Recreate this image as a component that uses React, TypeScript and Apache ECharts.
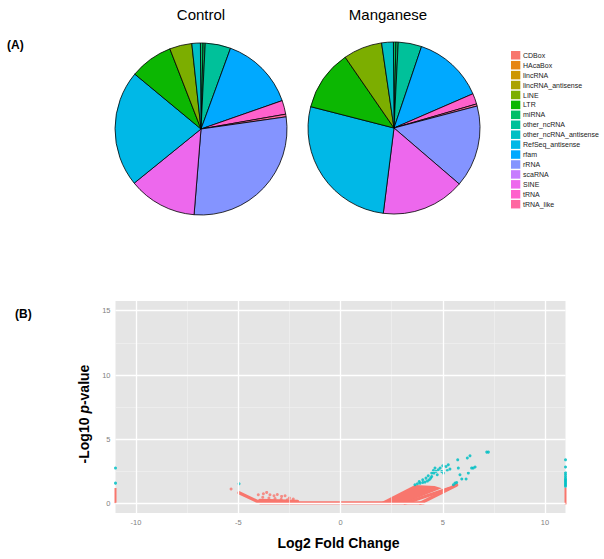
import React, { useEffect, useRef } from "react";
import * as echarts from "echarts";

const categories = ["CDBox", "HAcaBox", "lincRNA", "lincRNA_antisense", "LINE", "LTR", "miRNA", "other_ncRNA", "other_ncRNA_antisense", "RefSeq_antisense", "rfam", "rRNA", "scaRNA", "SINE", "tRNA", "tRNA_like"];
const palette = ["#F8766D", "#E68613", "#CD9600", "#ABA300", "#7CAE00", "#0CB702", "#00BE67", "#00C19A", "#00BFC4", "#00B8E7", "#00A9FF", "#8494FF", "#C77CFF", "#ED68ED", "#FF61CC", "#FF68A1"];

// pie slices, clockwise from 12 o'clock
const sliceNames = ["miRNA", "miRNA", "other_ncRNA", "rfam", "tRNA", "tRNA_like", "rRNA", "SINE", "RefSeq_antisense", "LTR", "LINE", "other_ncRNA_antisense"];
const controlValues = [0.5, 0.4, 4.8, 14.1, 2.6, 0.5, 28.6, 12.9, 21.9, 8.1, 4.2, 1.6];
const manganeseValues = [0.47, 0.43, 4.4, 13.3, 2.0, 0.4, 15.4, 15.7, 27.0, 11.4, 7.3, 2.2];

// volcano plot
const xMajor = [-10, -5, 0, 5, 10];
const xMinor = [-7.5, -2.5, 2.5, 7.5];
const yMajor = [0, 5, 10, 15];
const yMinor = [2.5, 7.5, 12.5];

const redBands = [
  [[-4.96, 0.85], [-3.9, 0.06], [4.05, 0.06]],
  [[-3.95, 0.25], [-2.1, 0.18]],
  [[3.15, 0.04], [5.3, 1.18]],
  [[3.9, 0.04], [5.68, 1.45]],
];
const edgeBands = [
  [[-11, 0.05], [-11, 1.22]],
  [[11, -0.05], [11, 1.25]],
];
const fanPolygons = [
  [[1.85, 0], [3.64, 1.45], [4.6, 1.38], [4.95, 1.2], [3.05, 0]],
];
const redPoints = [
  [-5.35, 1.14], [-4.02, 0.7], [-3.77, 0.78], [-3.61, 0.88], [-3.45, 0.7], [-3.25, 0.62], [-3.09, 0.72],
  [-2.88, 0.57], [-2.71, 0.62], [-2.5, 0.44], [-2.31, 0.36], [-3.8, 0.5], [-3.5, 0.45], [-3.2, 0.4],
  [-2.9, 0.35], [-2.6, 0.3],
];
const cyanPoints = [
  [-4.96, 1.55],
  [3.64, 1.47], [3.76, 1.55], [3.89, 1.6], [4.02, 1.65], [4.13, 1.68], [4.25, 1.76], [4.34, 1.86], [4.41, 1.99],
  [3.85, 1.73], [4.02, 1.86], [4.18, 1.99], [4.29, 2.17], [4.46, 2.38], [4.54, 2.58],
  [4.46, 2.12], [4.57, 2.38], [4.67, 2.51], [4.78, 2.64], [4.87, 2.77], [4.73, 2.25], [4.95, 2.51],
  [5.03, 2.38], [5.16, 2.89], [5.22, 2.58], [5.35, 2.69], [5.27, 3.03], [5.73, 3.41], [5.76, 2.77],
  [5.84, 2.25], [5.93, 1.92], [5.6, 1.6], [5.68, 1.65], [5.52, 1.47], [6.14, 1.92], [6.25, 2.38],
  [6.2, 3.55], [6.33, 3.72], [6.41, 2.77], [6.49, 2.77], [6.58, 2.85], [7.15, 4.01], [7.23, 4.01],
  [4.62, 2.77], [5.0, 2.95],
  [-11, 1.6], [-11, 2.77],
  [11, 1.35], [11, 1.45], [11, 1.55], [11, 1.65], [11, 1.75], [11, 1.85], [11, 1.95], [11, 2.1],
  [11, 2.25], [11, 2.4], [11, 2.85], [11, 3.41],
];

const RED = "#F8766D";
const CYAN = "#00BFC4";
const FONT = "Liberation Sans";

function colorOf(name: string) {
  return palette[categories.indexOf(name)];
}

export default function App() {
  const ref = useRef<HTMLDivElement>(null);
  useEffect(() => {
    document.body.style.margin = "0";
    const chart = echarts.init(ref.current!, null, { renderer: "svg" });

    const pieData = (vals: number[]) =>
      sliceNames.map((n, i) => ({ name: n, value: vals[i], itemStyle: { color: colorOf(n) } }));

    const pieBase = {
      type: "pie",
      radius: 86,
      startAngle: 90.4,
      clockwise: true,
      minAngle: 0,
      avoidLabelOverlap: false,
      label: { show: false },
      labelLine: { show: false },
      emphasis: { disabled: true },
      silent: true,
      itemStyle: { borderColor: "#000", borderWidth: 0.8 },
    };

    const legendGraphics: any[] = [];
    categories.forEach((c, i) => {
      legendGraphics.push({
        type: "rect",
        shape: { x: 511, y: 51 + i * 9.93, width: 9.3, height: 8.5 },
        style: { fill: palette[i] },
      });
      legendGraphics.push({
        type: "text",
        x: 523,
        y: 55.3 + i * 9.93,
        style: { text: c, fontSize: 7, fontFamily: FONT, fill: "#222", verticalAlign: "middle" },
      });
    });

    const markLineData = [
      ...xMinor.map((v) => ({ xAxis: v, lineStyle: { color: "#F2F2F2", width: 0.6, type: "solid" } })),
      ...yMinor.map((v) => ({ yAxis: v, lineStyle: { color: "#F2F2F2", width: 0.6, type: "solid" } })),
      ...xMajor.map((v) => ({ xAxis: v, lineStyle: { color: "#FFFFFF", width: 1.3, type: "solid" } })),
      ...yMajor.map((v) => ({ yAxis: v, lineStyle: { color: "#FFFFFF", width: 1.3, type: "solid" } })),
    ];

    const option: any = {
      animation: false,
      graphic: [
        { type: "text", x: 7, y: 45, style: { text: "(A)", fontSize: 12, fontWeight: "bold", fontFamily: FONT, fill: "#000", verticalAlign: "middle" } },
        { type: "text", x: 15, y: 314, style: { text: "(B)", fontSize: 12, fontWeight: "bold", fontFamily: FONT, fill: "#000", verticalAlign: "middle" } },
        { type: "text", x: 201, y: 14, style: { text: "Control", fontSize: 15, fontFamily: FONT, fill: "#000", align: "center", verticalAlign: "middle" } },
        { type: "text", x: 388, y: 14, style: { text: "Manganese", fontSize: 15, fontFamily: FONT, fill: "#000", align: "center", verticalAlign: "middle" } },
        ...legendGraphics,
      ],
      grid: {
        left: 115.5,
        right: 38.5,
        top: 301,
        bottom: 46,
        show: true,
        backgroundColor: "#E5E5E5",
        borderWidth: 0,
      },
      xAxis: {
        type: "value",
        min: -11,
        max: 11,
        axisLine: { show: false },
        splitLine: { show: false },
        axisTick: { show: true, customValues: xMajor, length: 3, lineStyle: { color: "#7F7F7F", width: 0.8 } },
        axisLabel: { customValues: xMajor, color: "#7F7F7F", fontSize: 7.5, fontFamily: FONT, margin: 5 },
        name: "Log2 Fold Change",
        nameLocation: "middle",
        nameGap: 23,
        nameTextStyle: { fontSize: 14, fontWeight: "bold", fontFamily: FONT, color: "#000", padding: [0, 4, 0, 0] },
      },
      yAxis: {
        type: "value",
        min: -0.72,
        max: 15.75,
        axisLine: { show: false },
        splitLine: { show: false },
        axisTick: { show: true, customValues: yMajor, length: 3, lineStyle: { color: "#7F7F7F", width: 0.8 } },
        axisLabel: { customValues: yMajor, color: "#7F7F7F", fontSize: 7.5, fontFamily: FONT, margin: 5 },
        name: "-Log10 {i|p}-value",
        nameLocation: "middle",
        nameRotate: 90,
        nameGap: 18,
        nameTextStyle: {
          fontSize: 14,
          fontWeight: "bold",
          fontFamily: FONT,
          color: "#000",
          padding: [0, 14, 0, 0],
          rich: { i: { fontSize: 14, fontWeight: "bold", fontStyle: "italic", fontFamily: FONT, color: "#000" } },
        },
      },
      series: [
        { ...pieBase, center: [201, 129], data: pieData(controlValues) },
        { ...pieBase, center: [394, 128], data: pieData(manganeseValues) },
        {
          type: "scatter",
          data: [],
          z: 1,
          silent: true,
          markLine: { silent: true, symbol: "none", label: { show: false }, animation: false, data: markLineData },
        },
        {
          type: "custom",
          coordinateSystem: "cartesian2d",
          clip: true,
          silent: true,
          z: 2,
          data: fanPolygons.map((p) => p[0]),
          renderItem: (params: any, api: any) => {
            const poly = fanPolygons[params.dataIndex];
            return {
              type: "polygon",
              shape: { points: poly.map((pt) => api.coord(pt)) },
              style: { fill: RED },
            };
          },
        },
        ...redBands.map((b) => ({
          type: "line",
          data: b,
          showSymbol: false,
          silent: true,
          z: 2,
          lineStyle: { color: RED, width: 3.3, cap: "round", join: "round" },
        })),
        ...edgeBands.map((b) => ({
          type: "line",
          data: b,
          showSymbol: false,
          silent: true,
          clip: false,
          z: 2,
          lineStyle: { color: RED, width: 2 },
        })),
        {
          type: "scatter",
          data: redPoints,
          symbolSize: 3,
          silent: true,
          z: 3,
          itemStyle: { color: RED },
        },
        {
          type: "scatter",
          data: cyanPoints,
          symbolSize: 3,
          silent: true,
          clip: false,
          z: 3,
          itemStyle: { color: CYAN, opacity: 0.85 },
        },
      ],
    };
    chart.setOption(option);
    return () => chart.dispose();
  }, []);
  return <div ref={ref} style={{ width: 604, height: 559 }} />;
}
